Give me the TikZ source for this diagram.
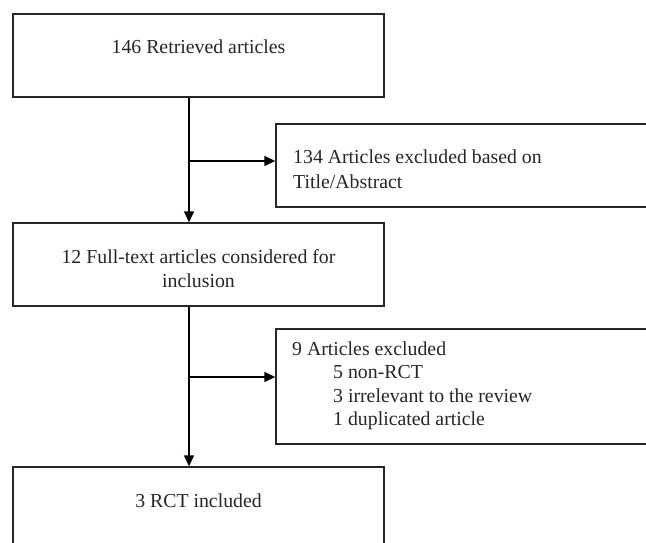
\documentclass[tikz,border=0pt]{standalone}
\usepackage{fontspec}
\setmainfont{Liberation Serif}
\usetikzlibrary{arrows.meta}
\begin{document}
\begin{tikzpicture}[x=1pt,y=-1pt,
  boxstyle/.style={draw=black!85,line width=1.4pt,rectangle,inner sep=0pt},
  txt/.style={inner sep=0pt,font=\fontsize{19.8}{24}\selectfont,text=black!85},
  arr/.style={draw=black,line width=1.4pt,-{Triangle[length=11pt,width=10pt]}}]
\useasboundingbox (0,0) rectangle (646,543);
\clip (0,0) rectangle (646,543);
% boxes
\node[boxstyle,minimum width=371pt,minimum height=83pt] (b1) at (198.5,55.5) {};
\node[boxstyle,minimum width=384pt,minimum height=83pt] (b2) at (468,165.5) {};
\node[boxstyle,minimum width=371pt,minimum height=83pt] (b3) at (198.5,264.5) {};
\node[boxstyle,minimum width=384pt,minimum height=115pt] (b4) at (468,386.5) {};
\node[boxstyle,minimum width=371pt,minimum height=93pt] (b5) at (198.5,513.5) {};
% texts
\node[txt,anchor=base] (t1) at (198.5,54) {146 Retrieved articles};
\node[txt,anchor=base west] (t2a) at (293,164) {134 Articles excluded based on};
\node[txt,anchor=base west] (t2b) at (293,188) {Title/Abstract};
\node[txt,anchor=base] (t3a) at (198.5,263) {12 Full-text articles considered for};
\node[txt,anchor=base] (t3b) at (198.5,287) {inclusion};
\node[txt,anchor=base west] (t4a) at (292,355) {9 Articles excluded};
\node[txt,anchor=base west] (t4b) at (333,378.5) {5 non-RCT};
\node[txt,anchor=base west] (t4c) at (333,402) {3 irrelevant to the review};
\node[txt,anchor=base west] (t4d) at (333,425.5) {1 duplicated article};
\node[txt,anchor=base] (t5) at (198.5,507) {3 RCT included};
% connectors
\coordinate (v) at (189,0);
\coordinate (j1) at (189,161);
\coordinate (j2) at (189,377);
\draw[arr] (b1.south -| v) -- (b3.north -| v);
\draw[arr] (j1) -- (b2.west |- j1);
\draw[arr] (b3.south -| v) -- (b5.north -| v);
\draw[arr] (j2) -- (b4.west |- j2);
\end{tikzpicture}
\end{document}
